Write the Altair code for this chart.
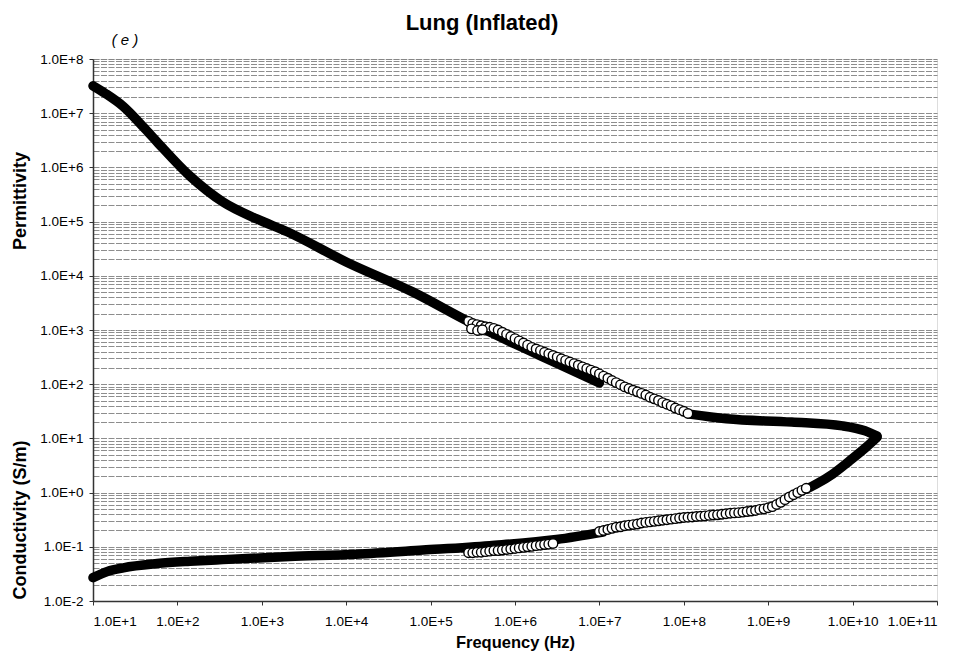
import altair as alt
import pandas as pd

# ---------------- data ----------------
# Black curve, permittivity (low-frequency part)
perm_line1_f = [10, 14.1, 22.6, 39.8, 57.5, 141, 347, 871, 2000, 1.0e4, 6.2e4, 2.9e5, 1.0e6, 3.2e6, 1.0e7]
perm_line1_v = [3.2e7, 2.3e7, 1.35e7, 5.5e6, 2.95e6, 6.9e5, 2.3e5, 1.12e5, 6.5e4, 1.8e4, 5.0e3, 1.4e3, 5.5e2, 2.4e2, 1.05e2]

# Black curve, permittivity (high-frequency part)
perm_line2_f = [1.17e8, 3.2e8, 1.9e9, 7.6e9, 1.4e10, 1.95e10]
perm_line2_v = [28, 23, 20, 17, 13.8, 11]

# Black curve, conductivity (low-frequency part)
cond_line1_f = [10, 14.8, 22.9, 57.5, 141, 347, 2140, 1.3e4, 8.1e4, 5.0e5, 3.1e6, 1.1e7]
cond_line1_v = [0.027, 0.035, 0.041, 0.049, 0.054, 0.058, 0.066, 0.073, 0.087, 0.105, 0.136, 0.186]

# Black curve, conductivity (high-frequency part)
cond_line2_f = [2.8e9, 3.6e9, 5.8e9, 9.1e9, 1.45e10, 1.95e10]
cond_line2_v = [1.15, 1.4, 2.2, 3.8, 6.9, 10.5]

# Open circles, permittivity
perm_circ_f = [2.82e5, 3.16e5, 3.55e5, 3.98e5, 4.47e5, 5.01e5, 5.62e5, 6.31e5, 7.08e5, 7.94e5, 8.91e5,
               1.00e6, 1.12e6, 1.26e6, 1.41e6, 1.58e6, 1.78e6, 2.00e6, 2.24e6, 2.51e6, 2.82e6,
               3.16e6, 3.55e6, 3.98e6, 4.47e6, 5.01e6, 5.62e6, 6.31e6, 7.08e6, 7.94e6, 8.91e6,
               1.00e7, 1.12e7, 1.26e7, 1.41e7, 1.58e7, 1.78e7, 2.00e7, 2.24e7, 2.51e7, 2.82e7,
               3.16e7, 3.55e7, 3.98e7, 4.47e7, 5.01e7, 5.62e7, 6.31e7, 7.08e7, 7.94e7, 8.91e7,
               1.00e8, 1.12e8,
               3.05e5, 3.6e5, 4.1e5]
perm_circ_v = [1445, 1318, 1259, 1202, 1148, 1122, 1072, 1000, 912, 832, 759,
               692, 631, 575, 525, 479, 447, 417, 389, 363, 339,
               316, 295, 275, 257, 240, 224, 209, 195, 182, 170,
               155, 141, 129, 117, 107, 97.7, 89.1, 83.2, 77.6, 72.4,
               67.6, 63.1, 57.5, 53.7, 50.1, 45.7, 42.7, 39.8, 36.3, 33.9,
               31.6, 28.8,
               1050, 980, 1010]

# Open circles, conductivity (lower group)
cond_circ1_f = [2.82e5, 3.16e5, 3.55e5, 3.98e5, 4.47e5, 5.01e5, 5.62e5, 6.31e5, 7.08e5, 7.94e5, 8.91e5,
                1.00e6, 1.12e6, 1.26e6, 1.41e6, 1.58e6, 1.78e6, 2.00e6, 2.24e6, 2.51e6, 2.82e6]
cond_circ1_v = [0.0776, 0.0776, 0.0794, 0.0794, 0.0813, 0.0832, 0.0851, 0.0851, 0.0871, 0.0891, 0.0912,
                0.0933, 0.0955, 0.0977, 0.100, 0.102, 0.105, 0.107, 0.110, 0.112, 0.115]

# Open circles, conductivity (upper group)
cond_circ2_f = [1.00e7, 1.12e7, 1.26e7, 1.41e7, 1.58e7, 1.78e7, 2.00e7, 2.24e7, 2.51e7, 2.82e7,
                3.16e7, 3.55e7, 3.98e7, 4.47e7, 5.01e7, 5.62e7, 6.31e7, 7.08e7, 7.94e7, 8.91e7,
                1.00e8, 1.12e8, 1.26e8, 1.41e8, 1.58e8, 1.78e8, 2.00e8, 2.24e8, 2.51e8, 2.82e8,
                3.16e8, 3.55e8, 3.98e8, 4.47e8, 5.01e8, 5.62e8, 6.31e8, 7.08e8, 7.94e8, 8.91e8,
                1.00e9, 1.12e9, 1.26e9, 1.41e9, 1.58e9, 1.78e9, 2.00e9, 2.24e9, 2.51e9, 2.82e9]
cond_circ2_v = [0.191, 0.200, 0.209, 0.219, 0.229, 0.234, 0.245, 0.251, 0.257, 0.263,
                0.275, 0.282, 0.288, 0.295, 0.302, 0.309, 0.316, 0.324, 0.331, 0.339,
                0.347, 0.351, 0.355, 0.363, 0.367, 0.372, 0.380, 0.385, 0.389, 0.398,
                0.407, 0.417, 0.422, 0.427, 0.437, 0.447, 0.457, 0.468, 0.490, 0.501,
                0.525, 0.550, 0.603, 0.661, 0.741, 0.832, 0.912, 1.00, 1.10, 1.20]

x_ticks = [1e1, 1e2, 1e3, 1e4, 1e5, 1e6, 1e7, 1e8, 1e9, 1e10, 1e11]
y_decades = [1e-2, 1e-1, 1e0, 1e1, 1e2, 1e3, 1e4, 1e5, 1e6, 1e7, 1e8]
y_minor_steps = [1, 2, 3, 4, 5, 6, 7, 8, 9]

# ---------------- tables ----------------
lines = pd.concat([
    pd.DataFrame({"f": perm_line1_f, "v": perm_line1_v, "seg": "perm1"}),
    pd.DataFrame({"f": perm_line2_f, "v": perm_line2_v, "seg": "perm2"}),
    pd.DataFrame({"f": cond_line1_f, "v": cond_line1_v, "seg": "cond1"}),
    pd.DataFrame({"f": cond_line2_f, "v": cond_line2_v, "seg": "cond2"}),
])
circles = pd.concat([
    pd.DataFrame({"f": perm_circ_f, "v": perm_circ_v}),
    pd.DataFrame({"f": cond_circ1_f, "v": cond_circ1_v}),
    pd.DataFrame({"f": cond_circ2_f, "v": cond_circ2_v}),
])

y_grid_values = [d * s for d in y_decades[:-1] for s in y_minor_steps] + [y_decades[-1]]

FONT = "Liberation Sans"
is_decade = "abs(log(datum.value)/LN10 - round(log(datum.value)/LN10)) < 0.001"
exp_txt = "round(log(datum.value)/LN10)"

x_enc = alt.X("f:Q", scale=alt.Scale(type="log", domain=[10, 1e11], nice=False),
              axis=alt.Axis(values=x_ticks, grid=False, title="Frequency (Hz)",
                            labelExpr="'1.0E+' + " + exp_txt,
                            labelFont=FONT, labelFontSize=13.5, labelColor="#000",
                            labelPadding=9, tickSize=4, tickColor="#333",
                            domainColor="#333", domainWidth=1.5,
                            titleFont=FONT, titleFontSize=16.5, titleFontWeight="bold",
                            titleColor="#000", titlePadding=7))
y_enc = alt.Y("v:Q", scale=alt.Scale(type="log", domain=[1e-2, 1e8], nice=False),
              axis=alt.Axis(values=y_grid_values, grid=True, title=None,
                            labelExpr=is_decade + " ? ('1.0E' + (" + exp_txt + " >= 0 ? '+' : '') + " + exp_txt + ") : ''",
                            labelFont=FONT, labelFontSize=13.5, labelColor="#000",
                            labelPadding=6, tickSize=4, tickColor="#333",
                            tickOpacity={"condition": {"test": is_decade, "value": 1}, "value": 0},
                            domainColor="#333", domainWidth=1.5,
                            gridColor="#707070", gridWidth=1, gridDash=[6, 1.5], gridOpacity=0.8))

line_layer = alt.Chart(lines).mark_line(color="black", strokeWidth=9.5, strokeCap="round",
                                        strokeJoin="round", interpolate="monotone").encode(
    x=x_enc, y=y_enc, detail="seg:N")
circ_layer = alt.Chart(circles).mark_point(shape="circle", filled=True, fill="white", stroke="black",
                                           strokeWidth=1.4, size=90, opacity=1).encode(x="f:Q", y="v:Q")

perm_title = alt.Chart(pd.DataFrame({"t": ["Permittivity"]})).mark_text(
    angle=270, font=FONT, fontSize=18, fontWeight="bold", color="black", align="center", baseline="middle"
).encode(text="t:N", x=alt.value(-72), y=alt.value(142))
cond_title = alt.Chart(pd.DataFrame({"t": ["Conductivity (S/m)"]})).mark_text(
    angle=270, font=FONT, fontSize=18, fontWeight="bold", color="black", align="center", baseline="middle"
).encode(text="t:N", x=alt.value(-72), y=alt.value(461))
panel_tag = alt.Chart(pd.DataFrame({"t": ["( e )"]})).mark_text(
    font=FONT, fontSize=15, fontStyle="italic", color="black", align="center", baseline="middle"
).encode(text="t:N", x=alt.value(32), y=alt.value(-19))
main_title = alt.Chart(pd.DataFrame({"t": ["Lung (Inflated)"]})).mark_text(
    font=FONT, fontSize=22, fontWeight="bold", color="black", align="center", baseline="middle"
).encode(text="t:N", x=alt.value(389), y=alt.value(-36))

chart = alt.layer(line_layer, circ_layer, perm_title, cond_title, panel_tag, main_title).properties(
    width=844, height=542,
    autosize=alt.AutoSizeParams(type="none"),
    padding={"left": 85, "top": 51, "right": 22, "bottom": 51},
).configure_view(stroke="#333", strokeWidth=1.5).configure(background="white")

chart.save("out.html", embed_options={"renderer": "svg", "actions": False})
